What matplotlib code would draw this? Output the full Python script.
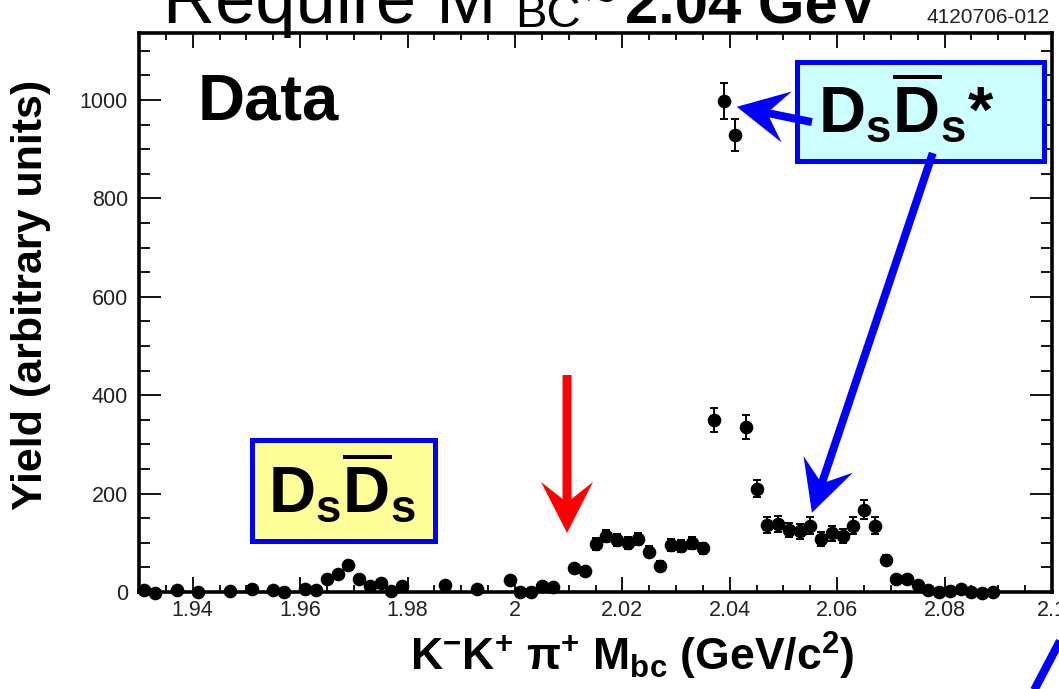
import numpy as np
import matplotlib
matplotlib.use("Agg")
import matplotlib.pyplot as plt
from matplotlib.patches import Rectangle, Polygon
from matplotlib.lines import Line2D
from matplotlib.ticker import MultipleLocator, FuncFormatter

plt.rcParams['font.family'] = ['Liberation Sans', 'DejaVu Sans']
plt.rcParams['mathtext.fontset'] = 'custom'
plt.rcParams['mathtext.rm'] = 'Liberation Sans'
plt.rcParams['mathtext.bf'] = 'Liberation Sans:bold'
plt.rcParams['mathtext.it'] = 'Liberation Sans:italic'

# K-K+pi+ beam-constrained mass, bin centres (GeV/c^2)
mass = [1.931, 1.933, 1.937, 1.941, 1.947, 1.951, 1.955, 1.957, 1.961, 1.963,
        1.965, 1.967, 1.969, 1.971, 1.973, 1.975, 1.977, 1.979, 1.987, 1.993,
        1.999, 2.001, 2.003, 2.005, 2.007, 2.011, 2.013, 2.015, 2.017, 2.019,
        2.021, 2.023, 2.025, 2.027, 2.029, 2.031, 2.033, 2.035, 2.037, 2.039,
        2.041, 2.043, 2.045, 2.047, 2.049, 2.051, 2.053, 2.055, 2.057, 2.059,
        2.061, 2.063, 2.065, 2.067, 2.069, 2.071, 2.073, 2.075, 2.077, 2.079,
        2.081, 2.083, 2.085, 2.087, 2.089]
# yield per bin (arbitrary units)
yields = [5, -2, 4, 1, 3, 7, 5, -1, 7, 4,
          26, 37, 54, 26, 12, 19, 3, 12, 14, 6,
          24, 1, 1, 12, 11, 48, 43, 97, 114, 106,
          100, 107, 82, 53, 96, 94, 99, 89, 350, 998,
          929, 335, 210, 136, 138, 126, 123, 135, 107, 119,
          114, 135, 167, 135, 65, 26, 26, 14, 5, 1,
          3, 7, -1, -3, -1]
# statistical uncertainty per bin
errors = [4, 4, 4, 4, 4, 5, 4, 4, 5, 4,
          6, 7, 8, 6, 5, 5, 4, 5, 5, 4,
          6, 4, 4, 5, 5, 8, 8, 12, 13, 12,
          12, 12, 11, 9, 12, 12, 12, 11, 24, 36,
          33, 24, 17, 17, 17, 15, 15, 17, 14, 15,
          15, 17, 19, 17, 10, 6, 6, 5, 4, 4,
          4, 4, 4, 4, 4]

x_range = (1.93, 2.10)
y_range = (0, 1136)
x_major, x_minor = 0.02, 0.005
y_major, y_minor = 200, 50

W, H = 1059, 689
fig = plt.figure(figsize=(W / 100, H / 100), dpi=100)
fig.patch.set_facecolor('white')

L, R, T, B = 139, 1052, 33, 592
ax = fig.add_axes([L / W, 1 - B / H, (R - L) / W, (B - T) / H])
ax.set_xlim(*x_range)
ax.set_ylim(*y_range)

for s in ax.spines.values():
    s.set_linewidth(2.6)

ax.xaxis.set_major_locator(MultipleLocator(x_major))
ax.xaxis.set_minor_locator(MultipleLocator(x_minor))
ax.yaxis.set_major_locator(MultipleLocator(y_major))
ax.yaxis.set_minor_locator(MultipleLocator(y_minor))
ax.xaxis.set_major_formatter(FuncFormatter(lambda v, p: f"{v:g}"))
ax.yaxis.set_major_formatter(FuncFormatter(lambda v, p: f"{v:g}"))

ax.tick_params(which='both', direction='in', top=True, right=True,
               width=1.3, labelsize=15.5, colors='black')
ax.tick_params(axis='x', which='major', length=11, pad=6)
ax.tick_params(axis='x', which='minor', length=5)
ax.tick_params(axis='y', which='major', length=16, pad=8)
ax.tick_params(axis='y', which='minor', length=8)
for lab in ax.get_xticklabels() + ax.get_yticklabels():
    lab.set_color('#222222')

ax.errorbar(mass, yields, yerr=errors, fmt='o', color='black', ms=8.8,
            elinewidth=1.4, capsize=3, capthick=1.4, clip_on=False, zorder=3)

# axis titles
fig.text(31 / W, 1 - 295 / H, "Yield (arbitrary units)", rotation=90,
         ha='center', va='center', fontsize=31, fontweight='bold')
fig.text(410 / W, 1 - 671 / H,
         r"$\mathbf{K^{-}K^{+}\ \pi^{+}\ M_{bc}\ (GeV/c^{2})}$",
         ha='left', va='baseline', fontsize=32)

# page heading (runs off the top edge)
fig.text(163 / W, 1 - 23 / H, "Require M", fontsize=52, va='baseline')
fig.text(515 / W, 1 - 27 / H, "BC", fontsize=34, va='baseline')
fig.text(586 / W, 1 - 16 / H, "~", fontsize=36, va='baseline')
fig.text(625 / W, 1 - 23 / H, "2.04 GeV", fontsize=43, va='baseline',
         fontweight='bold')
fig.text(1050 / W, 1 - 23 / H, "4120706-012", fontsize=15, ha='right',
         va='baseline', color='#222222')

ax.text(0.0646, 0.8444, "Data", transform=ax.transAxes, fontsize=47,
        fontweight='bold', ha='left', va='baseline', zorder=5)

# labelled boxes
ax.add_patch(Rectangle((0.1243, 0.0912), 0.2004, 0.1807, transform=ax.transAxes,
                       facecolor='#ffff99', edgecolor='#0000ff', lw=3.6,
                       zorder=4, clip_on=False))
ax.text(0.2223, 0.143, r"$\mathbf{D_s\overline{D}_s}$", transform=ax.transAxes,
        fontsize=47, ha='center', va='baseline', zorder=5)

ax.add_patch(Rectangle((0.7212, 0.7719), 0.2705, 0.1771, transform=ax.transAxes,
                       facecolor='#ccffff', edgecolor='#0000ff', lw=3.6,
                       zorder=4, clip_on=False))
ax.text(0.7437, 0.8229, r"$\mathbf{D_s\overline{D}_s}$*", transform=ax.transAxes,
        fontsize=47, fontweight='bold', ha='left', va='baseline', zorder=5)


def notched_arrow(tail, tip, color, shaft=9.0, head_len=51.0, head_half=26.0,
                  join=34.0, z=6):
    p0 = ax.transData.transform(tail)
    p1 = ax.transData.transform(tip)
    d = p1 - p0
    u = d / np.hypot(*d)
    n = np.array([-u[1], u[0]])
    wing = p1 - u * head_len
    neck = p1 - u * join
    pts = [p0 + n * shaft / 2, neck + n * shaft / 2, wing + n * head_half, p1,
           wing - n * head_half, neck - n * shaft / 2, p0 - n * shaft / 2]
    pts = fig.transFigure.inverted().transform(np.array(pts))
    fig.add_artist(Polygon(pts, closed=True, transform=fig.transFigure,
                           facecolor=color, edgecolor='none', zorder=z))


fig.canvas.draw()
notched_arrow((2.0097, 441), (2.0097, 120), '#ff0000')
notched_arrow((2.0553, 955), (2.0413, 986), '#0000ff', shaft=8)
notched_arrow((2.0778, 892), (2.0553, 161), '#0000ff', shaft=8)

# stray pointer entering from the lower right
fig.add_artist(Line2D([1071 / W, 1029 / W], [1 - 620 / H, 1 - 700 / H],
                      transform=fig.transFigure, color='#0000ff', lw=6,
                      solid_capstyle='butt'))

fig.savefig("out.png", dpi=100, facecolor='white')
